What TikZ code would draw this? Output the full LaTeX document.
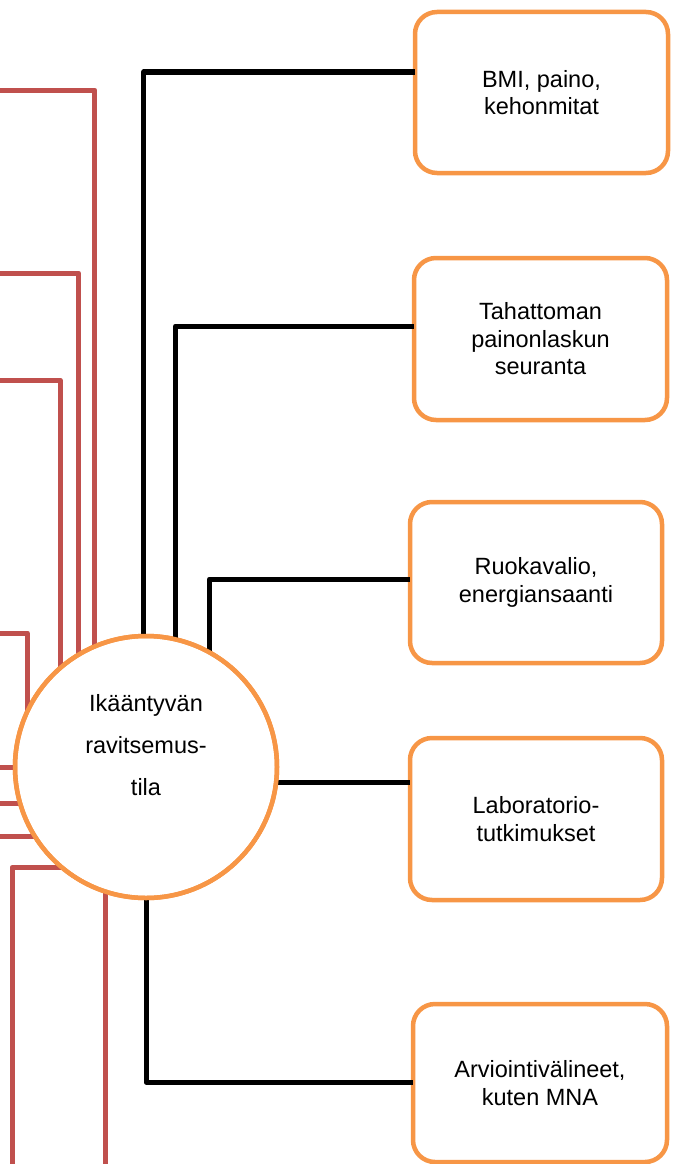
\documentclass[tikz,border=0pt]{standalone}
\usepackage{fontspec}
\setmainfont{Liberation Sans}
\definecolor{boxorange}{HTML}{F79646}
\definecolor{linered}{HTML}{C0504D}
\begin{document}
\begin{tikzpicture}[x=1pt,y=-1pt,
  infobox/.style={draw=boxorange,line width=4.5pt,rounded corners=22pt,fill=white,
    minimum width=253pt,minimum height=161pt,outer sep=0pt,align=center,
    font=\fontsize{23.5}{27.5}\selectfont},
  hub/.style={circle,draw=boxorange,line width=4.5pt,minimum size=262pt,inner sep=0pt,outer sep=0pt},
  blackline/.style={draw=black,line width=5pt,line join=round},
  redline/.style={draw=linered,line width=5pt,line join=round}]
\useasboundingbox (0,0) rectangle (676,1164);

% free ends
\coordinate (L1) at (0,90);
\coordinate (L2) at (0,273);
\coordinate (L3) at (0,380);
\coordinate (L4) at (0,633);
\coordinate (L5) at (0,766);
\coordinate (L6) at (0,804);
\coordinate (L7) at (0,838);
\coordinate (B8) at (12,1164);
\coordinate (B9) at (107,1164);

% boxes
\node[infobox] (b1) at (541.5,92.5) {BMI, paino,\\kehonmitat};
\node[infobox,minimum height=162pt] (b2) at (540.5,339) {Tahattoman\\painonlaskun\\seuranta};
\node[infobox,minimum width=252pt] (b3) at (536,582.5) {Ruokavalio,\\energiansaanti};
\node[infobox,minimum width=252pt,minimum height=162pt] (b4) at (536,819) {Laboratorio-\\tutkimukset};
\node[infobox,minimum width=254pt,minimum height=158pt] (b5) at (540,1083) {Arviointivälineet,\\kuten MNA};

% hub circle
\node[hub,label={[name=ct,yshift=22pt,align=center,font=\fontsize{23.5}{42}\selectfont]center:Ikääntyvän\\ravitsemus-\\tila}] (c) at (146,767) {};

% black connectors
\draw[blackline] (c.91.75) |- ([yshift=20.5pt]b1.west);
\draw[blackline] (c.77.2) |- ([yshift=13pt]b2.west);
\draw[blackline] (c.61.25) |- ([yshift=3.5pt]b3.west);
\draw[blackline] (c.-7) -- (c.-7 -| b4.west);
\draw[blackline] (c.270.4) |- ([yshift=1pt]b5.west);

% red connectors
\draw[redline] (c.113.9) |- (L1);
\draw[redline] (c.121.3) |- (L2);
\draw[redline] (c.131) |- (L3);
\draw[redline] (c.155.3) |- (L4);
\draw[redline] (c.180) -- (c.180 -| L5);
\draw[redline] (c.196.4) -- (c.196.4 -| L6);
\draw[redline] (c.212.8) -- (c.212.8 -| L7);
\draw[redline] (c.230.4) -| (B8);
\draw[redline] (c.252.7) -- (c.252.7 |- B9);

% redraw circle outline on top
\draw[draw=boxorange,line width=4.5pt] (c.center) circle[radius=131pt];
\end{tikzpicture}
\end{document}
